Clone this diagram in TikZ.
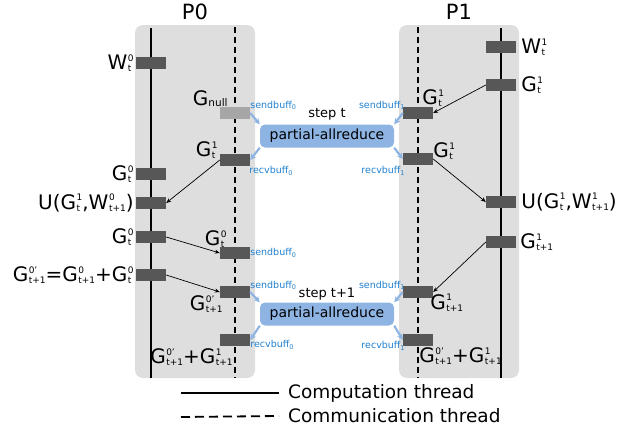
\documentclass[tikz,border=0pt]{standalone}
\usepackage{fontspec}
\setmainfont{DejaVu Sans}
\usepackage{xcolor}
\usepackage{tikz}
\usetikzlibrary{positioning, arrows.meta}

\definecolor{panelgray}{HTML}{DEDEDE}
\definecolor{bargray}{HTML}{575757}
\definecolor{nullgray}{HTML}{A6A6A6}
\definecolor{reduceblue}{HTML}{8EB4E3}
\definecolor{bufblue}{HTML}{1F80D0}

% stacked super/subscript after a letter
\newsavebox\supbox
\newsavebox\subbox
\newcommand\scrfont{\fontsize{9}{9}\selectfont}
\newcommand\supsub[2]{\sbox\supbox{\scrfont#1}\sbox\subbox{\scrfont#2}%
  \kern0.5pt\rlap{\raisebox{8.5pt}{\usebox\supbox}}\rlap{\raisebox{-2pt}{\usebox\subbox}}%
  \ifdim\wd\supbox>\wd\subbox\hspace*{\wd\supbox}\else\hspace*{\wd\subbox}\fi}
\newcommand\bufname[2]{#1\raisebox{-1.5pt}{\fontsize{6.5}{6.5}\selectfont #2}}

\begin{document}
\begin{tikzpicture}[x=1pt, y=-1pt,
  panel/.style={fill=panelgray, rounded corners=8pt, minimum width=120pt,
                minimum height=353pt, inner sep=0pt},
  bar/.style={fill=bargray, minimum width=30pt, minimum height=12pt, inner sep=0pt},
  lbl/.style={inner sep=0pt, font=\fontsize{20}{20}\selectfont},
  buf/.style={inner sep=0pt, text=bufblue, font=\fontsize{9.5}{10}\selectfont},
  reduce/.style={fill=reduceblue, rounded corners=5pt, minimum width=134pt,
                 minimum height=23pt, inner sep=0pt, font=\fontsize{14}{14}\selectfont},
  comp/.style={line width=1.8pt},
  comm/.style={line width=1.8pt, dash pattern=on 6pt off 4pt},
  arr/.style={-{Stealth[length=5pt, width=4pt]}, line width=0.7pt},
  bluearr/.style={-{Stealth[length=6pt, width=6pt]}, line width=2.2pt, reduceblue}
]
  \useasboundingbox (0,0) rectangle (638,431);

  % processes
  \node[panel] (pan0) at (195,201.5) {};
  \node[panel] (pan1) at (459,201.5) {};
  \node[inner sep=0pt, font=\fontsize{21}{21}\selectfont, above=5pt of pan0] (title0) {P0};
  \node[inner sep=0pt, font=\fontsize{21}{21}\selectfont, above=5pt of pan1] (title1) {P1};

  % threads
  \draw[comp] ([xshift=-44pt, yshift=-3pt]pan0.north) -- ([xshift=-44pt]pan0.south);
  \draw[comm] ([xshift=40pt, yshift=-2pt]pan0.north) -- ([xshift=40pt]pan0.south);
  \draw[comm] ([xshift=-41pt, yshift=-2pt]pan1.north) -- ([xshift=-41pt]pan1.south);
  \draw[comp] ([xshift=42pt, yshift=-3pt]pan1.north) -- ([xshift=42pt]pan1.south);

  % P0 bars
  \node[bar] (p0w)     at (151,63)  {};
  \node[bar] (p0g)     at (151,174) {};
  \node[bar] (p0u)     at (151,203) {};
  \node[bar] (p0g2)    at (151,237) {};
  \node[bar] (p0sum)   at (151,275) {};
  \node[bar, fill=nullgray] (p0null) at (235,113) {};
  \node[bar] (p0recv)  at (235,160) {};
  \node[bar] (p0send)  at (235,253) {};
  \node[bar] (p0send2) at (235,292) {};
  \node[bar] (p0recv2) at (235,340) {};

  % P1 bars
  \node[bar] (p1w)     at (501,47)  {};
  \node[bar] (p1g)     at (501,85)  {};
  \node[bar] (p1u)     at (501,202) {};
  \node[bar] (p1g2)    at (501,242) {};
  \node[bar] (p1send)  at (418,113) {};
  \node[bar] (p1recv)  at (418,159) {};
  \node[bar] (p1send2) at (418,292) {};
  \node[bar] (p1recv2) at (418,340) {};

  % allreduce steps
  \node[reduce] (ar1) at (327,136) {partial-allreduce};
  \node[reduce] (ar2) at (327,314) {partial-allreduce};
  \node[inner sep=0pt, font=\fontsize{13}{13}\selectfont, above=4pt of ar1] (step1) {step t};
  \node[inner sep=0pt, font=\fontsize{13}{13}\selectfont, above=2pt of ar2] (step2) {step t+1};

  \draw[bluearr] (p0null.east) -- (ar1.north west);
  \draw[bluearr] (ar1.south west) -- (p0recv.east);
  \draw[bluearr] (p1send.west) -- (ar1.north east);
  \draw[bluearr] (ar1.south east) -- (p1recv.west);
  \draw[bluearr] (p0send2.east) -- (ar2.north west);
  \draw[bluearr] (ar2.south west) -- (p0recv2.east);
  \draw[bluearr] (p1send2.west) -- (ar2.north east);
  \draw[bluearr] (ar2.south east) -- (p1recv2.west);

  % data moves
  \draw[arr] (p0recv.west) -- (p0u.east);
  \draw[arr] (p0g2.east) -- (p0send.west);
  \draw[arr] (p0sum.east) -- (p0send2.west);
  \draw[arr] (p1g.west) -- (p1send.east);
  \draw[arr] (p1recv.east) -- (p1u.west);
  \draw[arr] (p1g2.west) -- (p1send2.east);

  % P0 labels
  \node[lbl, left=2pt of p0w]   (lw0)   {W\supsub{0}{t}};
  \node[lbl, left=2pt of p0g]   (lg0)   {G\supsub{0}{t}};
  \node[lbl, left=2pt of p0u]   (lu0)   {U(G\supsub{1}{t},W\supsub{0}{t+1})};
  \node[lbl, left=2pt of p0g2]  (lg02)  {G\supsub{0}{t}};
  \node[lbl, left=2pt of p0sum] (lsum0) {G\supsub{0'}{t+1}=G\supsub{0}{t+1}+G\supsub{0}{t}};
  \node[lbl, above left=0pt and -8pt of p0null] (lnull)
    {G\raisebox{-1pt}{\fontsize{10.5}{10.5}\selectfont null}};
  \node[lbl, above left=-5pt and 2pt of p0recv]  (lrecv0)  {G\supsub{1}{t}};
  \node[lbl, above left=-1pt and -7pt of p0send] (lsend0)  {G\supsub{0}{t}};
  \node[lbl, below left=-3pt and -3pt of p0send2] (lsend02) {G\supsub{0'}{t+1}};
  \node[lbl, below left=2pt and -13pt of p0recv2] (lrecv02) {G\supsub{0'}{t+1}+G\supsub{1}{t+1}};

  % P1 labels
  \node[lbl, right=5pt of p1w]  (lw1)  {W\supsub{1}{t}};
  \node[lbl, right=5pt of p1g]  (lg1)  {G\supsub{1}{t}};
  \node[lbl, right=5pt of p1u]  (lu1)  {U(G\supsub{1}{t},W\supsub{1}{t+1})};
  \node[lbl, right=4pt of p1g2] (lg12) {G\supsub{1}{t+1}};
  \node[lbl, above right=0pt and -11pt of p1send]  (lsend1)  {G\supsub{1}{t}};
  \node[lbl, above right=-7pt and 0pt of p1recv]   (lrecv1)  {G\supsub{1}{t}};
  \node[lbl, below right=-4pt and -3pt of p1send2] (lsend12) {G\supsub{1}{t+1}};
  \node[lbl, below right=1pt and -14pt of p1recv2] (lrecv12) {G\supsub{0'}{t+1}+G\supsub{1}{t+1}};

  % buffer names
  \node[buf, above right=-3pt and 0pt of p0null]  {\bufname{sendbuff}{0}};
  \node[buf, below right=0pt and -1pt of p0recv]  {\bufname{recvbuff}{0}};
  \node[buf, right=0pt of p0send]                 {\bufname{sendbuff}{0}};
  \node[buf, above right=-4pt and 0pt of p0send2] {\bufname{sendbuff}{0}};
  \node[buf, below right=-6pt and 0pt of p0recv2] {\bufname{recvbuff}{0}};
  \node[buf, above left=-3pt and -2pt of p1send]  {\bufname{sendbuff}{1}};
  \node[buf, below left=1pt and -2pt of p1recv]   {\bufname{recvbuff}{1}};
  \node[buf, above left=-4pt and -2pt of p1send2] {\bufname{sendbuff}{1}};
  \node[buf, below left=-5pt and -2pt of p1recv2] {\bufname{recvbuff}{1}};

  % legend
  \node[inner sep=0pt, font=\fontsize{18.5}{19}\selectfont, anchor=west] (legcomp) at (288,393) {Computation thread};
  \node[inner sep=0pt, font=\fontsize{18.5}{19}\selectfont, anchor=west] (legcomm) at (288,416) {Communication thread};
  \coordinate (legc) at (181,393);
  \coordinate (legm) at (181,417);
  \draw[comp] (legc) -- ([xshift=-9pt]legcomp.west);
  \draw[line width=1.8pt, dash pattern=on 9pt off 5pt] (legm) -- ([xshift=-9pt]legcomm.west);
\end{tikzpicture}
\end{document}
